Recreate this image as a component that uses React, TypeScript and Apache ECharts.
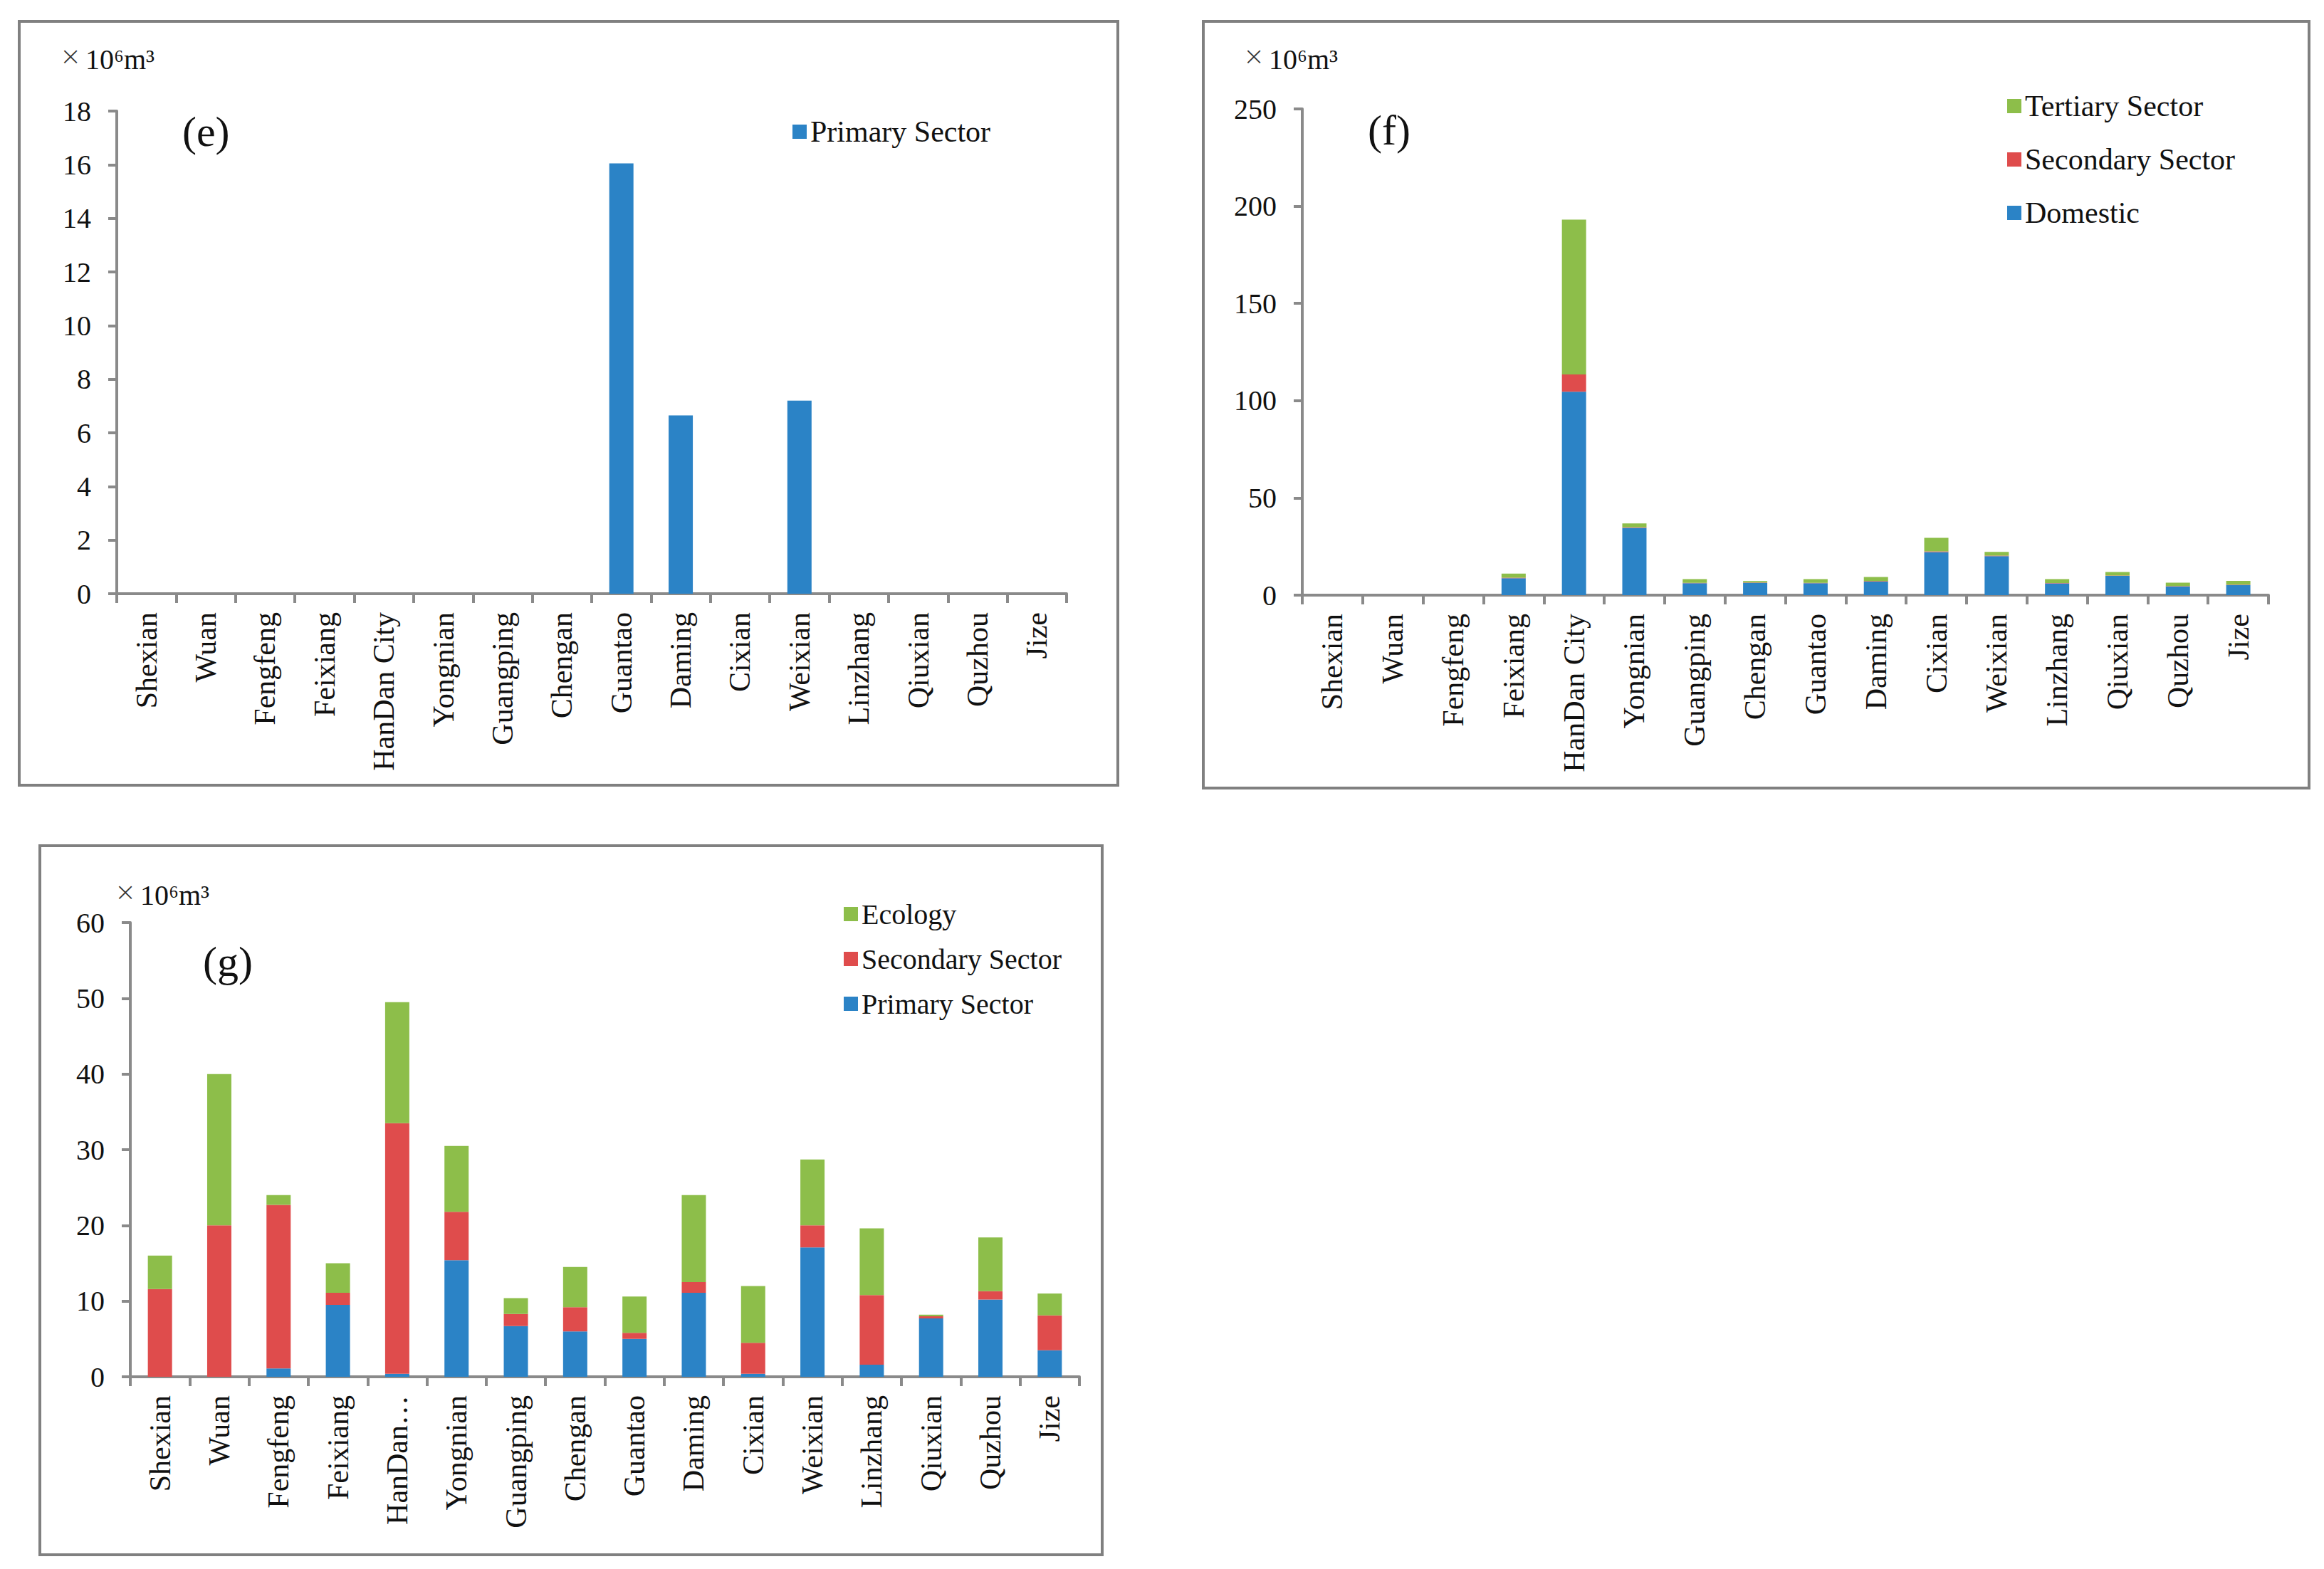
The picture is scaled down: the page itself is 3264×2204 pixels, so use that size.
import React, { useEffect, useRef } from "react";
import * as echarts from "echarts";

const categoriesEF = ["Shexian", "Wuan", "Fengfeng", "Feixiang", "HanDan City", "Yongnian", "Guangping", "Chengan", "Guantao", "Daming", "Cixian", "Weixian", "Linzhang", "Qiuxian", "Quzhou", "Jize"];
const categoriesG = ["Shexian", "Wuan", "Fengfeng", "Feixiang", "HanDan…", "Yongnian", "Guangping", "Chengan", "Guantao", "Daming", "Cixian", "Weixian", "Linzhang", "Qiuxian", "Quzhou", "Jize"];

const ePrimary = [0, 0, 0, 0, 0, 0, 0, 0, 16.05, 6.65, 0, 7.2, 0, 0, 0, 0];

const fDomestic = [0, 0, 0, 8.7, 104.6, 34.6, 6.1, 6.3, 6.1, 7.0, 22.1, 20.0, 6.0, 9.9, 4.5, 5.2];
const fSecondary = [0, 0, 0, 0.3, 8.9, 0.3, 0.2, 0.2, 0.2, 0.2, 0.4, 0.3, 0.2, 0.2, 0.2, 0.2];
const fTertiary = [0, 0, 0, 2.1, 79.6, 2.0, 1.9, 0.7, 1.9, 2.1, 7.0, 1.9, 2.0, 1.8, 1.7, 1.9];

const gPrimary = [0, 0, 1.1, 9.5, 0.4, 15.4, 6.7, 6.0, 5.0, 11.1, 0.4, 17.1, 1.6, 7.7, 10.2, 3.5];
const gSecondary = [11.6, 20.0, 21.6, 1.6, 33.1, 6.4, 1.6, 3.2, 0.8, 1.4, 4.1, 2.9, 9.2, 0.3, 1.1, 4.6];
const gEcology = [4.4, 20.0, 1.3, 3.9, 16.0, 8.7, 2.1, 5.3, 4.8, 11.5, 7.5, 8.7, 8.8, 0.2, 7.1, 2.9];

const eTicks = { min: 0, max: 18, interval: 2 };
const fTicks = { min: 0, max: 250, interval: 50 };
const gTicks = { min: 0, max: 60, interval: 10 };

const BLUE = "#2B83C6";
const RED = "#DF4C4C";
const GREEN = "#8DBE4A";
const AXIS = "#8A8A8A";
const FONT = "'Liberation Serif', 'Times New Roman', serif";

function xAxisFor(gridIndex: number, cats: string[]) {
  return {
    type: "category",
    gridIndex,
    data: cats,
    axisLine: { lineStyle: { color: AXIS, width: 4 } },
    axisTick: { show: true, length: 13, lineStyle: { color: AXIS, width: 4 } },
    axisLabel: {
      rotate: 90,
      margin: 26,
      fontFamily: FONT,
      fontSize: 42,
      color: "#111",
      interval: 0,
    },
    splitLine: { show: false },
  };
}

function yAxisFor(gridIndex: number, t: { min: number; max: number; interval: number }) {
  return {
    type: "value",
    gridIndex,
    min: t.min,
    max: t.max,
    interval: t.interval,
    axisLine: { show: true, lineStyle: { color: AXIS, width: 4 } },
    axisTick: { show: true, length: 12, lineStyle: { color: AXIS, width: 4 } },
    axisLabel: { margin: 36, fontFamily: FONT, fontSize: 40, color: "#111" },
    splitLine: { show: false },
  };
}

function bar(name: string, data: number[], color: string, idx: number, stack?: string) {
  return {
    type: "bar",
    name,
    data,
    xAxisIndex: idx,
    yAxisIndex: idx,
    stack,
    barWidth: 34,
    itemStyle: { color },
    emphasis: { disabled: true },
  };
}

function legendFor(left: number, top: number, names: string[], fontSize: number, gap: number) {
  return {
    left,
    top,
    orient: "vertical",
    padding: 0,
    itemWidth: 20,
    itemHeight: 20,
    itemGap: gap,
    icon: "rect",
    data: names,
    selectedMode: false,
    textStyle: { fontFamily: FONT, fontSize, color: "#111" },
  };
}

function unitText(x: number, y: number) {
  return {
    type: "text",
    x,
    y,
    style: {
      text: "×",
      fontFamily: "'DejaVu Sans', sans-serif",
      fontSize: 36,
      fontWeight: 200,
      fill: "#333",
      verticalAlign: "middle",
    },
  };
}
function unitText2(x: number, y: number) {
  return {
    type: "text",
    x,
    y,
    style: {
      text: "10⁶m³",
      fontFamily: FONT,
      fontSize: 40,
      fill: "#111",
      verticalAlign: "middle",
    },
  };
}
function panelLabel(x: number, y: number, s: string) {
  return {
    type: "text",
    x,
    y,
    style: { text: s, fontFamily: FONT, fontSize: 60, fill: "#111", verticalAlign: "middle" },
  };
}
function frame(x: number, y: number, w: number, h: number) {
  return {
    type: "rect",
    shape: { x, y, width: w, height: h },
    style: { fill: "none", stroke: "#808080", lineWidth: 4 },
    silent: true,
  };
}

export default function App() {
  const ref = useRef<HTMLDivElement>(null);
  useEffect(() => {
    document.body.style.margin = "0";
    const chart = echarts.init(ref.current!, undefined, { renderer: "svg" });
    chart.setOption({
      animation: false,
      backgroundColor: "#ffffff",
      grid: [
        { left: 164, top: 156, width: 1334, height: 678 },
        { left: 1829, top: 153, width: 1357, height: 683 },
        { left: 183, top: 1296, width: 1333, height: 638 },
      ],
      xAxis: [xAxisFor(0, categoriesEF), xAxisFor(1, categoriesEF), xAxisFor(2, categoriesG)],
      yAxis: [yAxisFor(0, eTicks), yAxisFor(1, fTicks), yAxisFor(2, gTicks)],
      legend: [
        legendFor(1113, 164, ["Primary Sector"], 42, 30),
        legendFor(2819, 128, ["Tertiary Sector", "Secondary Sector", "Domestic"], 42, 33),
        legendFor(1185, 1264, ["Ecology", "Secondary Sector", "Primary Sector"], 40, 23),
      ],
      series: [
        bar("Primary Sector", ePrimary, BLUE, 0),
        bar("Domestic", fDomestic, BLUE, 1, "f"),
        bar("Secondary Sector", fSecondary, RED, 1, "f"),
        bar("Tertiary Sector", fTertiary, GREEN, 1, "f"),
        bar("Primary Sector", gPrimary, BLUE, 2, "g"),
        bar("Secondary Sector", gSecondary, RED, 2, "g"),
        bar("Ecology", gEcology, GREEN, 2, "g"),
      ],
      graphic: [
        frame(27, 30, 1543, 1073),
        frame(1690, 30, 1553, 1077),
        frame(56, 1188, 1492, 996),
        unitText(84, 78),
        unitText2(120, 83),
        unitText(1746, 78),
        unitText2(1782, 83),
        unitText(161, 1252),
        unitText2(197, 1257),
        panelLabel(256, 185, "(e)"),
        panelLabel(1921, 183, "(f)"),
        panelLabel(285, 1351, "(g)"),
      ],
    });
    return () => chart.dispose();
  }, []);
  return (
    <div
      ref={ref}
      style={{ position: "absolute", left: 0, top: 0, width: 3264, height: 2204, background: "#fff" }}
    />
  );
}
